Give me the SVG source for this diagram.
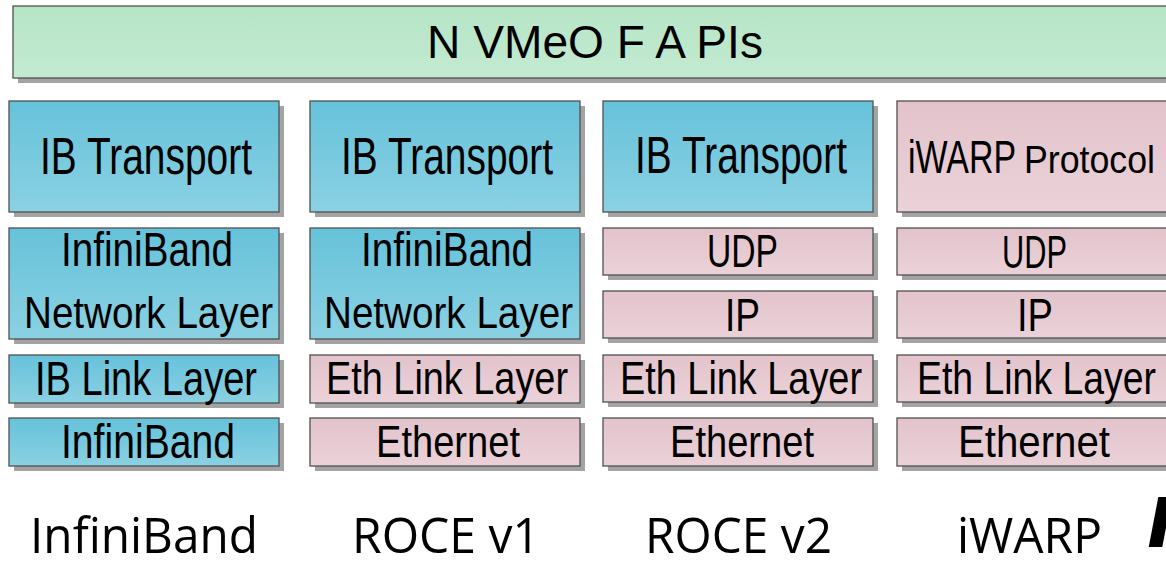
<svg xmlns="http://www.w3.org/2000/svg" width="1166" height="572" viewBox="0 0 1166 572">
  <defs>
    <linearGradient id="gBlue" x1="0" y1="0" x2="0" y2="1">
      <stop offset="0" stop-color="#66c2da"/>
      <stop offset="1" stop-color="#8bd1e3"/>
    </linearGradient>
    <linearGradient id="gPink" x1="0" y1="0" x2="0" y2="1">
      <stop offset="0" stop-color="#e3c3cb"/>
      <stop offset="1" stop-color="#ebd2d8"/>
    </linearGradient>
    <linearGradient id="gGreen" x1="0" y1="0" x2="0" y2="1">
      <stop offset="0" stop-color="#b6e4c5"/>
      <stop offset="1" stop-color="#c3ebd2"/>
    </linearGradient>
  </defs>
  <style>
    .shadow { fill: #a3a3a3; }
    .box { stroke: #505050; stroke-width: 1.3; }
    .blue { fill: url(#gBlue); }
    .pink { fill: url(#gPink); }
    .green { fill: url(#gGreen); }
    .lbl { font-family: "Liberation Sans", Arial, sans-serif; font-size: 46px; fill: #000; }
    .xl { font-size: 51px; }
    .l { font-size: 49px; }
    .m { font-size: 44px; }
    .s { font-size: 39px; }
    .cap { font-family: "Open Sans", "Liberation Sans", sans-serif; font-size: 50px; fill: #000; }
  </style>

  <rect width="1166" height="572" fill="#fff"/>

  <!-- API layer across the top -->
  <g id="nvmeof-apis">
    <rect class="shadow" x="18" y="11" width="1160" height="72"/>
    <rect class="box green" x="13" y="6" width="1160" height="72"/>
    <text class="lbl" x="427" y="58" textLength="336" lengthAdjust="spacingAndGlyphs">N VMeO F A PIs</text>
  </g>

  <!-- Column 1: InfiniBand -->
  <g id="ib-transport-1">
    <rect class="shadow" x="14" y="106" width="270" height="111"/>
    <rect class="box blue" x="9" y="101" width="270" height="111"/>
    <text class="lbl xl" x="40" y="174" textLength="212" lengthAdjust="spacingAndGlyphs">IB Transport</text>
  </g>
  <g id="ib-network-1">
    <rect class="shadow" x="14" y="233" width="270" height="111"/>
    <rect class="box blue" x="9" y="228" width="270" height="111"/>
    <text class="lbl l" x="61" y="266" textLength="172" lengthAdjust="spacingAndGlyphs">InfiniBand</text>
    <text class="lbl m" x="24" y="328" textLength="249" lengthAdjust="spacingAndGlyphs">Network Layer</text>
  </g>
  <g id="ib-link-1">
    <rect class="shadow" x="14" y="360" width="270" height="48"/>
    <rect class="box blue" x="9" y="355" width="270" height="48"/>
    <text class="lbl l" x="35" y="395" textLength="222" lengthAdjust="spacingAndGlyphs">IB Link Layer</text>
  </g>
  <g id="ib-phy-1">
    <rect class="shadow" x="14" y="423" width="270" height="48"/>
    <rect class="box blue" x="9" y="418" width="270" height="48"/>
    <text class="lbl l" x="61" y="458" textLength="174" lengthAdjust="spacingAndGlyphs">InfiniBand</text>
  </g>

  <!-- Column 2: RoCE v1 -->
  <g id="ib-transport-2">
    <rect class="shadow" x="315" y="106" width="270" height="111"/>
    <rect class="box blue" x="310" y="101" width="270" height="111"/>
    <text class="lbl xl" x="341" y="174" textLength="212" lengthAdjust="spacingAndGlyphs">IB Transport</text>
  </g>
  <g id="ib-network-2">
    <rect class="shadow" x="315" y="233" width="270" height="111"/>
    <rect class="box blue" x="310" y="228" width="270" height="111"/>
    <text class="lbl l" x="361" y="266" textLength="172" lengthAdjust="spacingAndGlyphs">InfiniBand</text>
    <text class="lbl m" x="324" y="328" textLength="249" lengthAdjust="spacingAndGlyphs">Network Layer</text>
  </g>
  <g id="eth-link-2">
    <rect class="shadow" x="315" y="360" width="270" height="48"/>
    <rect class="box pink" x="310" y="355" width="270" height="48"/>
    <text class="lbl" x="326" y="394" textLength="242" lengthAdjust="spacingAndGlyphs">Eth Link Layer</text>
  </g>
  <g id="ethernet-2">
    <rect class="shadow" x="315" y="423" width="270" height="48"/>
    <rect class="box pink" x="310" y="418" width="270" height="48"/>
    <text class="lbl m" x="376" y="457" textLength="144" lengthAdjust="spacingAndGlyphs">Ethernet</text>
  </g>

  <!-- Column 3: RoCE v2 -->
  <g id="ib-transport-3">
    <rect class="shadow" x="608" y="106" width="270" height="111"/>
    <rect class="box blue" x="603" y="101" width="270" height="111"/>
    <text class="lbl xl" x="635" y="173" textLength="212" lengthAdjust="spacingAndGlyphs">IB Transport</text>
  </g>
  <g id="udp-3">
    <rect class="shadow" x="608" y="233" width="270" height="47"/>
    <rect class="box pink" x="603" y="228" width="270" height="47"/>
    <text class="lbl" x="707" y="267" textLength="71" lengthAdjust="spacingAndGlyphs">UDP</text>
  </g>
  <g id="ip-3">
    <rect class="shadow" x="608" y="296" width="270" height="47"/>
    <rect class="box pink" x="603" y="291" width="270" height="47"/>
    <text class="lbl" x="725" y="331" textLength="35" lengthAdjust="spacingAndGlyphs">IP</text>
  </g>
  <g id="eth-link-3">
    <rect class="shadow" x="608" y="360" width="270" height="47"/>
    <rect class="box pink" x="603" y="355" width="270" height="47"/>
    <text class="lbl" x="620" y="394" textLength="242" lengthAdjust="spacingAndGlyphs">Eth Link Layer</text>
  </g>
  <g id="ethernet-3">
    <rect class="shadow" x="608" y="423" width="270" height="48"/>
    <rect class="box pink" x="603" y="418" width="270" height="48"/>
    <text class="lbl m" x="670" y="457" textLength="144" lengthAdjust="spacingAndGlyphs">Ethernet</text>
  </g>

  <!-- Column 4: iWARP -->
  <g id="iwarp-protocol-4">
    <rect class="shadow" x="902" y="106" width="270" height="111"/>
    <rect class="box pink" x="897" y="101" width="270" height="111"/>
    <text class="lbl" y="173"><tspan x="908" textLength="108" lengthAdjust="spacingAndGlyphs">iWARP</tspan><tspan class="s" x="1024" textLength="131" lengthAdjust="spacingAndGlyphs">Protocol</tspan></text>
  </g>
  <g id="udp-4">
    <rect class="shadow" x="902" y="233" width="270" height="47"/>
    <rect class="box pink" x="897" y="228" width="270" height="47"/>
    <text class="lbl" x="1002" y="268" textLength="65" lengthAdjust="spacingAndGlyphs">UDP</text>
  </g>
  <g id="ip-4">
    <rect class="shadow" x="902" y="296" width="270" height="47"/>
    <rect class="box pink" x="897" y="291" width="270" height="47"/>
    <text class="lbl" x="1017" y="331" textLength="36" lengthAdjust="spacingAndGlyphs">IP</text>
  </g>
  <g id="eth-link-4">
    <rect class="shadow" x="902" y="360" width="270" height="47"/>
    <rect class="box pink" x="897" y="355" width="270" height="47"/>
    <text class="lbl" x="917" y="394" textLength="239" lengthAdjust="spacingAndGlyphs">Eth Link Layer</text>
  </g>
  <g id="ethernet-4">
    <rect class="shadow" x="902" y="423" width="270" height="48"/>
    <rect class="box pink" x="897" y="418" width="270" height="48"/>
    <text class="lbl m" x="958" y="457" textLength="152" lengthAdjust="spacingAndGlyphs">Ethernet</text>
  </g>

  <!-- Column captions -->
  <g id="captions">
    <text class="cap" x="30" y="553" textLength="228" lengthAdjust="spacingAndGlyphs">InfiniBand</text>
    <text class="cap" x="352" y="553" textLength="188" lengthAdjust="spacingAndGlyphs">ROCE v1</text>
    <text class="cap" x="645" y="553" textLength="187" lengthAdjust="spacingAndGlyphs">ROCE v2</text>
    <text class="cap" x="957" y="553" textLength="145" lengthAdjust="spacingAndGlyphs">iWARP</text>
    <text x="1150" y="545" font-family="Liberation Sans, Arial, sans-serif" font-size="66" font-weight="bold" font-style="italic" fill="#000" stroke="#000" stroke-width="4">I</text>
  </g>
</svg>
